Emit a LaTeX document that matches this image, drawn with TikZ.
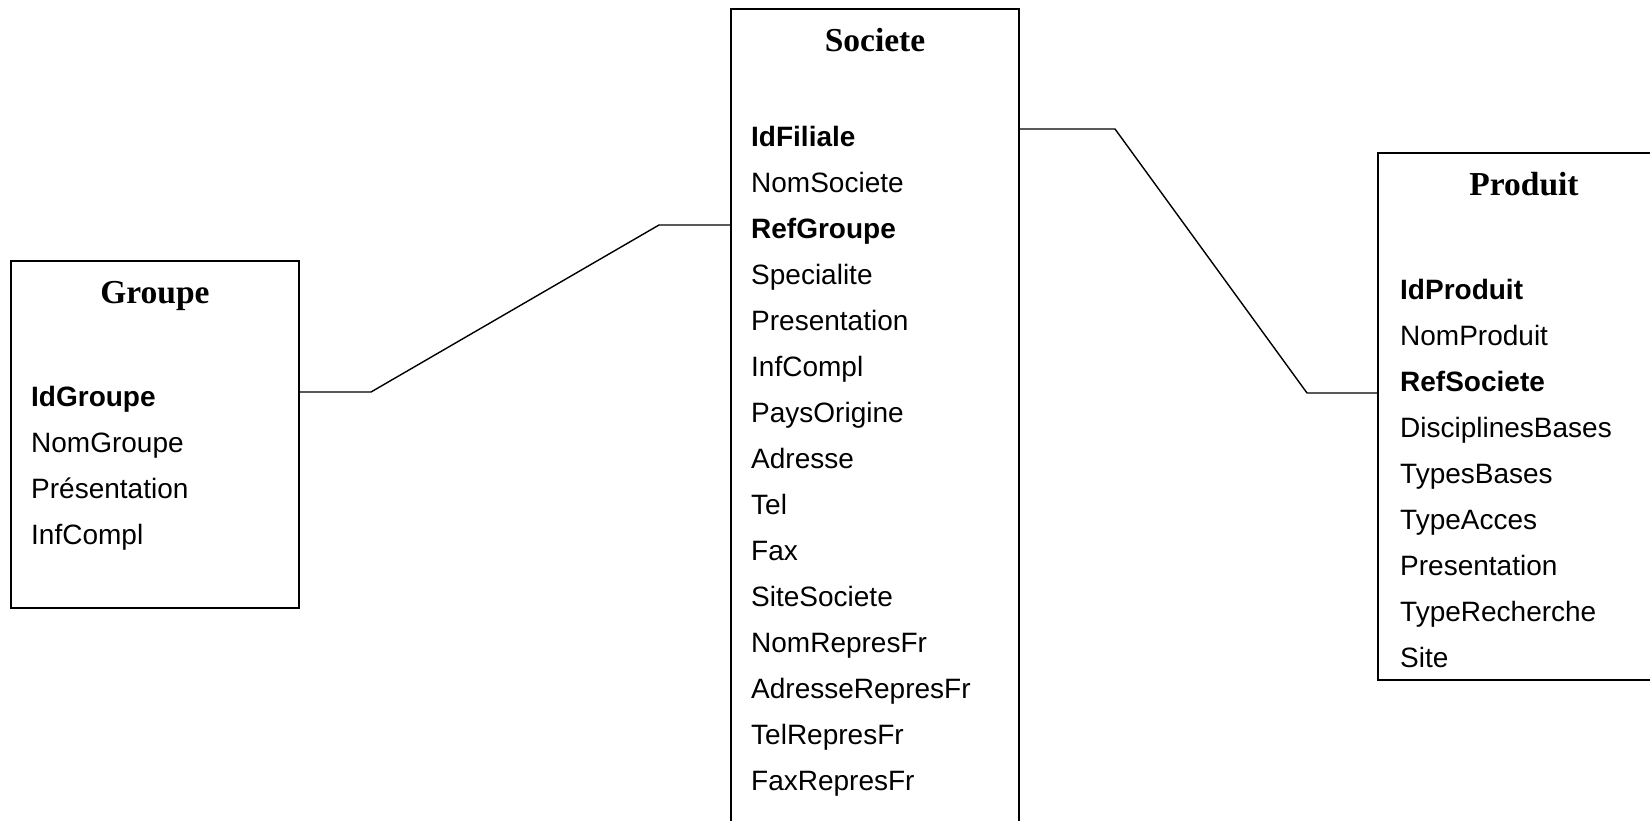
\documentclass[tikz,border=0pt]{standalone}
\usepackage{fontspec}
\setmainfont{Liberation Sans}
\newfontfamily\titlefont{Liberation Serif}
\begin{document}
\begin{tikzpicture}[x=1pt,y=-1pt,
  box/.style={draw, line width=1.8pt, rectangle, inner sep=0pt},
  field/.style={anchor=base west, inner sep=0pt, font=\fontsize{28}{30}\selectfont},
  keyfield/.style={anchor=base west, inner sep=0pt, font=\fontsize{28}{30}\selectfont\bfseries},
  ttl/.style={anchor=base, inner sep=0pt, font=\titlefont\fontsize{33.5}{36}\selectfont\bfseries},
  link/.style={line width=1.4pt, line join=miter}]
\useasboundingbox (0,0) rectangle (1650,820);
\fill[white] (0,0) rectangle (1650,820);
\clip (0,0) rectangle (1650,820);

% boxes
\node[box, minimum width=288pt, minimum height=347pt] (groupe) at (155,434.5) {};
\node[box, minimum width=288pt, minimum height=850pt] (societe) at (875,434) {};
\node[box, minimum width=292pt, minimum height=527pt] (produit) at (1524,416.5) {};

% titles
\node[ttl] (tg) at (155,303) {Groupe};
\node[ttl] (ts) at (875,51) {Societe};
\node[ttl] (tp) at (1524,195) {Produit};

% Groupe fields
\node[keyfield] (g1) at (31,406) {IdGroupe};
\node[field] (g2) at (31,452) {NomGroupe};
\node[field] (g3) at (31,498) {Présentation};
\node[field] (g4) at (31,544) {InfCompl};

% Societe fields
\node[keyfield] (s1) at (751,146) {IdFiliale};
\node[field] (s2) at (751,192) {NomSociete};
\node[keyfield] (s3) at (751,238) {RefGroupe};
\node[field] (s4) at (751,284) {Specialite};
\node[field] (s5) at (751,330) {Presentation};
\node[field] (s6) at (751,376) {InfCompl};
\node[field] (s7) at (751,422) {PaysOrigine};
\node[field] (s8) at (751,468) {Adresse};
\node[field] (s9) at (751,514) {Tel};
\node[field] (s10) at (751,560) {Fax};
\node[field] (s11) at (751,606) {SiteSociete};
\node[field] (s12) at (751,652) {NomRepresFr};
\node[field] (s13) at (751,698) {AdresseRepresFr};
\node[field] (s14) at (751,744) {TelRepresFr};
\node[field] (s15) at (751,790) {FaxRepresFr};

% Produit fields
\node[keyfield] (p1) at (1400,299) {IdProduit};
\node[field] (p2) at (1400,345) {NomProduit};
\node[keyfield] (p3) at (1400,391) {RefSociete};
\node[field] (p4) at (1400,437) {DisciplinesBases};
\node[field] (p5) at (1400,483) {TypesBases};
\node[field] (p6) at (1400,529) {TypeAcces};
\node[field] (p7) at (1400,575) {Presentation};
\node[field] (p8) at (1400,621) {TypeRecherche};
\node[field] (p9) at (1400,667) {Site};

% connectors
\coordinate (a1) at (371,392);
\coordinate (a2) at (659,225);
\coordinate (b1) at (1115,129);
\coordinate (b2) at (1307,393);
\draw[link] (groupe.east |- a1) -- (a1) -- (a2) -- (societe.west |- a2);
\draw[link] (societe.east |- b1) -- (b1) -- (b2) -- (produit.west |- b2);
\end{tikzpicture}
\end{document}
